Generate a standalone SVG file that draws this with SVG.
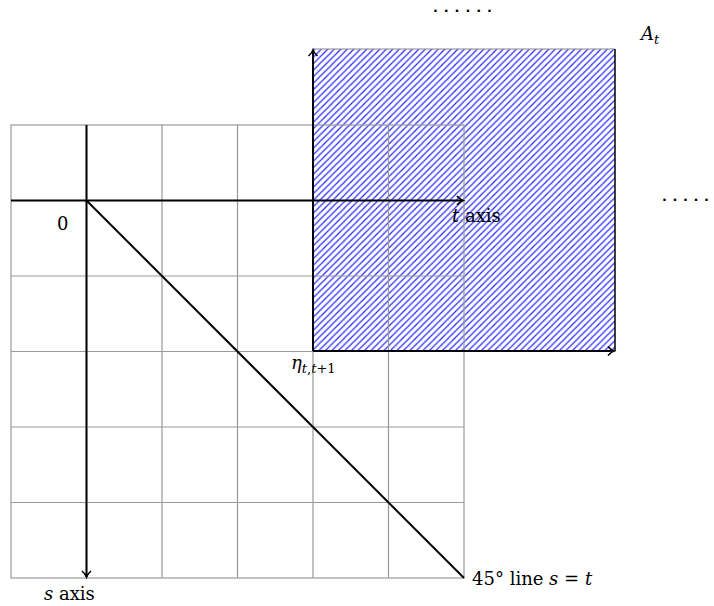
<svg xmlns="http://www.w3.org/2000/svg" width="714" height="606" viewBox="0 0 714 606">
<style>
.grid{stroke:#999;stroke-width:1.2;fill:none}
.ax{stroke:#000;stroke-width:2;fill:none}
.lbl{font-family:"DejaVu Serif","Liberation Serif",serif;font-size:18px;fill:#000}
.it{font-style:italic}
.sub{font-size:13px}
.dots{font-family:"DejaVu Sans",sans-serif;font-size:13px;font-weight:bold;fill:#000}
</style>
<defs>
<pattern id="hatch" patternUnits="userSpaceOnUse" width="6.5" height="6.5">
<path d="M-1,1 L1,-1 M0,6.5 L6.5,0 M5.5,7.5 L7.5,5.5" stroke="#2828ff" stroke-width="1.2"/>
</pattern>
<marker id="arr" markerWidth="12" markerHeight="12" refX="8" refY="6" orient="auto" markerUnits="userSpaceOnUse">
<path d="M2,1.5 Q5,5 8,6 Q5,7 2,10.5" fill="none" stroke="#000" stroke-width="1.6"/>
</marker>
</defs>
<g id="region-A">
<rect x="313" y="49" width="302" height="302" fill="url(#hatch)"/>
<path d="M313,49H615" stroke="#888" stroke-width="1.2" fill="none"/>
<path d="M615,49V351" stroke="#000" stroke-width="1.5" fill="none"/>
</g>
<g id="grid">
<rect class="grid" x="11" y="125" width="453" height="453"/>
<path class="grid" d="M86.5,125V578M162,125V578M237.5,125V578M313,125V578M388.5,125V578M11,200.5H464M11,276H464M11,351.5H464M11,427H464M11,502.5H464"/>
</g>
<g id="connectors">
<line class="ax" x1="11" y1="200.5" x2="463" y2="200.5" marker-end="url(#arr)"/>
<line class="ax" x1="86.5" y1="125" x2="86.5" y2="577" marker-end="url(#arr)"/>
<line class="ax" x1="86.5" y1="200.5" x2="464" y2="578"/>
<line class="ax" x1="313" y1="351" x2="313" y2="50" marker-end="url(#arr)"/>
<line class="ax" x1="313" y1="351" x2="614" y2="351" marker-end="url(#arr)"/>
</g>
<g id="labels">
<text class="lbl" x="57" y="230">0</text>
<text class="lbl" x="452" y="222"><tspan class="it">t</tspan> axis</text>
<text class="lbl" x="44" y="600"><tspan class="it">s</tspan> axis</text>
<text class="lbl" x="472" y="585">45° line <tspan class="it">s</tspan> = <tspan class="it">t</tspan></text>
<text class="lbl" x="291" y="369"><tspan class="it">η</tspan><tspan class="it sub" dy="4">t</tspan><tspan class="sub">,</tspan><tspan class="it sub">t</tspan><tspan class="sub">+1</tspan></text>
<text class="lbl" x="641" y="40"><tspan class="it">A</tspan><tspan class="it sub" dy="4">t</tspan></text>
<text class="dots" x="433 443.8 454.6 465.4 476.2 487" y="12">......</text>
<text class="dots" x="662 672.5 683 693.5 704" y="201">.....</text>
</g>
</svg>
